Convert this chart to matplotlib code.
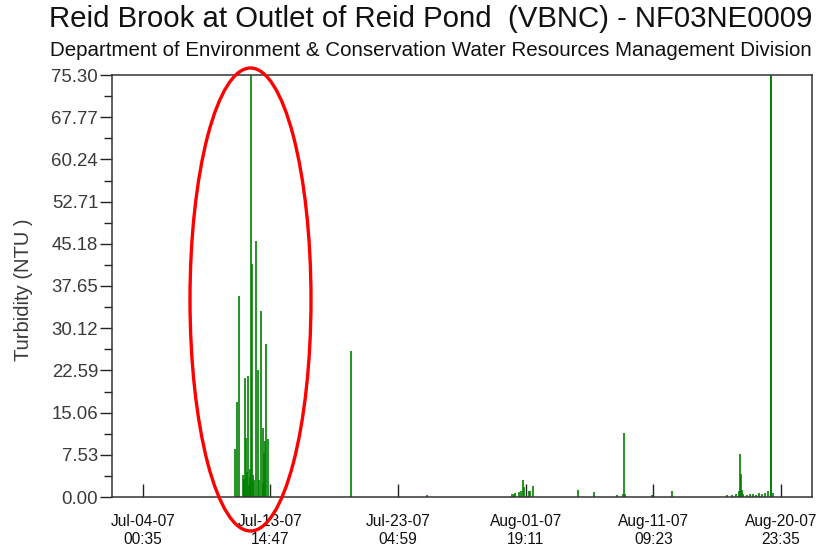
import matplotlib
matplotlib.use("Agg")
import matplotlib.pyplot as plt
import matplotlib.dates as mdates
from matplotlib.patches import Ellipse
import numpy as np
import pandas as pd

plt.rcParams['font.family'] = ['Liberation Sans', 'DejaVu Sans']

# ---- data ----
times = [
    "2007-07-10 23:30", "2007-07-11 02:00", "2007-07-11 06:45", "2007-07-11 14:00",
    "2007-07-11 15:15", "2007-07-11 16:00", "2007-07-11 17:03", "2007-07-11 19:25",
    "2007-07-11 20:30", "2007-07-11 21:55", "2007-07-12 00:48", "2007-07-12 01:30",
    "2007-07-12 02:30", "2007-07-12 03:52", "2007-07-12 05:40", "2007-07-12 08:00",
    "2007-07-12 10:00", "2007-07-12 12:52", "2007-07-12 15:57", "2007-07-12 18:00",
    "2007-07-12 21:22", "2007-07-13 01:00", "2007-07-13 02:03", "2007-07-13 03:51",
    "2007-07-13 05:00", "2007-07-13 06:55", "2007-07-13 09:58",
    "2007-07-19 15:38", "2007-07-25 08:30",
    "2007-07-31 17:57", "2007-07-31 21:15", "2007-08-01 00:48", "2007-08-01 08:00",
    "2007-08-01 10:40", "2007-08-01 13:45", "2007-08-01 16:10", "2007-08-02 00:20",
    "2007-08-02 03:00", "2007-08-02 07:50", "2007-08-05 18:05", "2007-08-06 22:55",
    "2007-08-08 15:15", "2007-08-09 02:45", "2007-08-09 03:55", "2007-08-09 06:20",
    "2007-08-11 07:35", "2007-08-12 19:00",
    "2007-08-16 21:45", "2007-08-17 06:35", "2007-08-17 14:30", "2007-08-17 19:15",
    "2007-08-17 22:10", "2007-08-17 23:55", "2007-08-18 01:45", "2007-08-18 03:30",
    "2007-08-18 10:10", "2007-08-18 15:40", "2007-08-18 21:00", "2007-08-19 02:30",
    "2007-08-19 07:50", "2007-08-19 13:20", "2007-08-19 18:40", "2007-08-20 00:35",
    "2007-08-20 05:00", "2007-08-20 06:00", "2007-08-20 08:30",
]
turbidity = [
    8.6, 17.0, 35.9, 4.0,
    3.2, 3.0, 21.3, 10.6,
    4.5, 21.6, 2.1, 3.5,
    5.0, 75.3, 41.6, 4.0,
    3.0, 45.7, 22.7, 3.0,
    33.1, 2.5, 12.3, 7.8,
    10.0, 27.3, 10.3,
    26.1, 0.3,
    0.5, 0.6, 0.7, 0.9,
    1.0, 3.0, 1.8, 1.1,
    1.0, 2.0, 1.3, 0.85,
    0.3, 0.5, 11.4, 0.5,
    0.3, 1.07,
    0.3, 0.3, 0.5, 1.1,
    7.6, 4.1, 1.2, 0.5,
    0.4, 0.5, 0.6, 0.4,
    0.7, 0.5, 0.8, 1.0,
    75.3, 75.3, 0.8,
]
tick_times = ["2007-07-04 00:35", "2007-07-13 14:47", "2007-07-23 04:59",
              "2007-08-01 19:11", "2007-08-11 09:23", "2007-08-20 23:35"]
tick_labels = ["Jul-04-07\n00:35", "Jul-13-07\n14:47", "Jul-23-07\n04:59",
               "Aug-01-07\n19:11", "Aug-11-07\n09:23", "Aug-20-07\n23:35"]
y_ticks = [0.00, 7.53, 15.06, 22.59, 30.12, 37.65, 45.18, 52.71, 60.24, 67.77, 75.30]
x_range = ["2007-07-01 16:40", "2007-08-23 06:57"]

title = "Reid Brook at Outlet of Reid Pond  (VBNC) - NF03NE0009"
subtitle = "Department of Environment & Conservation Water Resources Management Division"

# ---- plot ----
W, H = 817, 548
fig = plt.figure(figsize=(W / 100, H / 100), dpi=100)
L, R, T, B = 111.7, 811.7, 75, 497
ax = fig.add_axes([L / W, 1 - B / H, (R - L) / W, (B - T) / H])

t = pd.to_datetime(times)
ax.vlines(t, 0, turbidity, color='#008000', lw=1.2)

ax.set_xlim(pd.to_datetime(x_range[0]), pd.to_datetime(x_range[1]))
ax.set_ylim(0, 75.30)

ax.set_yticks(y_ticks)
ax.set_yticklabels([f"{v:.2f}" for v in y_ticks])
ax.set_yticks([(a + b) / 2 for a, b in zip(y_ticks[:-1], y_ticks[1:])], minor=True)
ax.tick_params(axis='y', which='major', direction='out', length=8.8, width=1.0,
               pad=1, labelsize=13.4, labelcolor='#3a3a3a', color='#222222')
ax.tick_params(axis='y', which='minor', direction='out', length=5.5, width=1.0,
               color='#222222')

ax.set_xticks(pd.to_datetime(tick_times))
ax.set_xticklabels(tick_labels, linespacing=1.2)
ax.xaxis.set_minor_locator(matplotlib.ticker.NullLocator())
ax.tick_params(axis='x', which='major', direction='in', length=9.4, width=1.0,
               pad=12.5, labelsize=11.2, labelcolor='#111111', color='#222222')

for s in ax.spines.values():
    s.set_linewidth(1.1)
    s.set_color('#333333')

ax.set_ylabel("Turbidity (NTU )", fontsize=14.5, color='#3a3a3a')
ax.yaxis.set_label_coords((33 - L) / (R - L), (B - 290) / (B - T))

fig.text(812 / W, 1 - 19 / H, title, ha='right', va='center', fontsize=21.2, color='#111111')
fig.text(812 / W, 1 - 51 / H, subtitle, ha='right', va='center', fontsize=14.8, color='#111111')

ell = Ellipse((250.5 / W, 1 - 299.5 / H), 121 / W, 463 / H, transform=fig.transFigure,
              fill=False, edgecolor='#ff0000', lw=2.4, clip_on=False, zorder=10)
fig.add_artist(ell)

fig.savefig("out.png", dpi=100)
